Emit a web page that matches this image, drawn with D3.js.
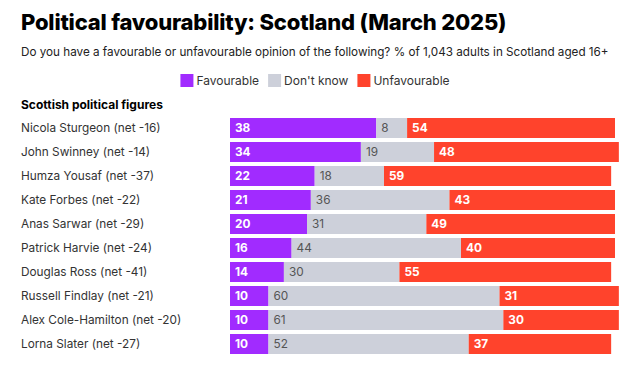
<!DOCTYPE html>
<meta charset="utf-8">
<script src="https://cdn.jsdelivr.net/npm/d3@7"></script>
<style>
body { margin: 0; background: #fff; }
text { font-family: Inter, "Noto Sans", sans-serif; }
</style>
<body>
<script>

var names = ["Nicola Sturgeon", "John Swinney", "Humza Yousaf", "Kate Forbes", "Anas Sarwar",
             "Patrick Harvie", "Douglas Ross", "Russell Findlay", "Alex Cole-Hamilton", "Lorna Slater"];
var nets = [-16, -14, -37, -22, -29, -24, -41, -21, -20, -27];
var favourable = [38, 34, 22, 21, 20, 16, 14, 10, 10, 10];
var dontKnow = [8, 19, 18, 36, 31, 44, 30, 60, 61, 52];
var unfavourable = [54, 48, 59, 43, 49, 40, 55, 31, 30, 37];

var seriesNames = ["Favourable", "Don't know", "Unfavourable"];
var colors = ["#a12bff", "#cdd0da", "#ff432c"];
var labelColors = ["#fff", "#555", "#fff"];

var width = 642, height = 371;

var svg = d3.select("body").append("svg")
    .attr("width", width)
    .attr("height", height);

// title + subtitle
svg.append("text")
    .attr("x", 21).attr("y", 30)
    .style("font-size", "22px")
    .style("font-weight", 800)
    .style("letter-spacing", "-0.2px")
    .attr("fill", "#000")
    .text("Political favourability: Scotland (March 2025)");

svg.append("text")
    .attr("x", 21).attr("y", 56)
    .style("font-size", "11.7px")
    .attr("fill", "#222")
    .text("Do you have a favourable or unfavourable opinion of the following? % of 1,043 adults in Scotland aged 16+");

// legend, centred on the page
var legend = svg.append("g");
var items = legend.selectAll("g")
    .data(seriesNames)
    .enter().append("g");
items.append("rect")
    .attr("y", 74)
    .attr("width", 13).attr("height", 13)
    .attr("fill", function(d, i) { return colors[i]; });
items.append("text")
    .attr("x", 16).attr("y", 84.5)
    .style("font-size", "12px")
    .attr("fill", "#333")
    .text(function(d) { return d; });
var lx = 0;
items.attr("transform", function() {
  var t = "translate(" + lx + ",0)";
  lx += 16 + d3.select(this).select("text").node().getComputedTextLength() + 9;
  return t;
});
legend.attr("transform", "translate(" + (315 - (lx - 9) / 2) + ",0)");

svg.append("text")
    .attr("x", 21).attr("y", 109)
    .style("font-size", "12px")
    .style("font-weight", 700)
    .attr("fill", "#000")
    .text("Scottish political figures");

var rows = names.map(function(n, i) {
  return {name: n, net: nets[i], values: [favourable[i], dontKnow[i], unfavourable[i]]};
});

var x = d3.scaleLinear().domain([0, 100]).range([230, 615]);
var y = d3.scaleBand().domain(names).range([116, 356]).paddingInner(1/6).paddingOuter(1/12);

var row = svg.append("g").selectAll("g")
    .data(rows)
    .enter().append("g")
    .attr("transform", function(d) { return "translate(0," + y(d.name) + ")"; });

row.append("text")
    .attr("x", 21)
    .attr("y", y.bandwidth() / 2)
    .attr("dy", "0.36em")
    .style("font-size", "11.8px")
    .attr("fill", "#333")
    .text(function(d) { return d.name + " (net " + d.net + ")"; });

row.each(function(d) {
  var g = d3.select(this);
  var cum = 0;
  d.values.forEach(function(v, k) {
    var x0 = x(cum), x1 = x(cum + v);
    g.append("rect")
        .attr("x", x0)
        .attr("width", x1 - x0)
        .attr("height", y.bandwidth())
        .attr("fill", colors[k]);
    g.append("text")
        .attr("x", x0 + 5)
        .attr("y", y.bandwidth() / 2)
        .attr("dy", "0.36em")
        .style("font-size", "11.8px")
        .style("font-weight", k === 1 ? 400 : 700)
        .attr("fill", labelColors[k])
        .text(v);
    cum += v;
  });
});

</script>
</body>
